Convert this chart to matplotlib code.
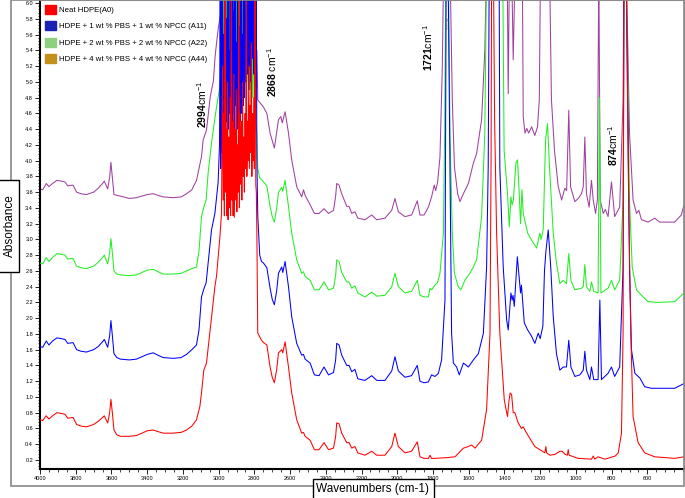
import matplotlib
matplotlib.use("Agg")
import matplotlib.pyplot as plt
import numpy as np
from matplotlib.patches import Patch, Rectangle
from matplotlib.ticker import MultipleLocator, AutoMinorLocator, FormatStrFormatter

plt.rcParams['font.family'] = ['Liberation Sans', 'DejaVu Sans']
plt.rcParams['mathtext.fontset'] = 'custom'
plt.rcParams['mathtext.rm'] = 'Liberation Sans'
plt.rcParams['mathtext.bf'] = 'Liberation Sans:bold'

# Espectros FTIR (numero de onda cm-1, absorbancia)
# A0 - HDPE puro
a0 = [(4000, 0.71), (3985, 0.70), (3965, 0.76), (3950, 0.72), (3930, 0.76), (3905, 0.80), (3880, 0.79),
      (3860, 0.78), (3845, 0.73), (3815, 0.74), (3795, 0.65), (3770, 0.63), (3740, 0.62), (3700, 0.65),
      (3674, 0.69), (3650, 0.74), (3640, 0.76), (3621, 0.67), (3610, 0.80), (3603, 0.97), (3595, 0.80),
      (3586, 0.58), (3570, 0.52), (3550, 0.50), (3500, 0.50), (3460, 0.51), (3430, 0.54), (3400, 0.57),
      (3366, 0.58), (3340, 0.56), (3310, 0.54), (3254, 0.54), (3210, 0.55), (3180, 0.58), (3150, 0.63),
      (3124, 0.71), (3105, 0.88), (3096, 1.05), (3083, 1.34), (3068, 1.43), (3055, 1.70), (3040, 2.02),
      (3021, 2.40), (3012, 2.53), (2993, 3.03), (2984, 3.33),
      (2978, 5.2), (2975, 3.5), (2971, 4.6), (2968, 3.3), (2964, 6.5), (2961, 3.6), (2957, 4.4), (2954, 3.3),
      (2950, 5.0), (2947, 3.25), (2943, 4.3), (2940, 3.4), (2936, 4.8), (2933, 3.3), (2929, 6.5), (2926, 3.5),
      (2922, 4.5), (2919, 3.3), (2915, 5.1), (2912, 3.28), (2908, 4.4), (2905, 3.5), (2901, 4.9), (2898, 3.35),
      (2894, 4.2), (2891, 3.6), (2887, 6.5), (2884, 3.4), (2880, 4.6), (2877, 3.7), (2873, 4.5), (2870, 3.5),
      (2866, 5.0), (2863, 3.8), (2859, 4.3), (2856, 3.6), (2852, 4.6), (2849, 3.9), (2845, 6.5), (2842, 3.8),
      (2838, 4.5), (2835, 4.0), (2831, 5.2), (2828, 3.9), (2824, 4.7), (2821, 4.1), (2817, 5.5), (2814, 3.8),
      (2810, 4.6), (2807, 4.0), (2803, 4.8), (2800, 3.9), (2796, 6.5), (2792, 3.7), (2789, 3.6),
      (2786, 3.08), (2781, 1.81), (2760, 1.72), (2749, 1.69), (2730, 1.66), (2712, 1.38), (2700, 1.25),
      (2688, 1.18), (2675, 1.35), (2665, 1.56), (2647, 1.60), (2641, 1.56), (2628, 1.70), (2609, 1.38),
      (2591, 1.05), (2563, 0.71), (2535, 0.54), (2525, 0.55), (2516, 0.50), (2488, 0.45), (2464, 0.33),
      (2438, 0.33), (2410, 0.42), (2385, 0.33), (2357, 0.35), (2345, 0.50), (2339, 0.67), (2326, 0.66),
      (2311, 0.54), (2283, 0.42), (2270, 0.42), (2255, 0.35), (2237, 0.37), (2221, 0.29), (2181, 0.26),
      (2143, 0.31), (2115, 0.26), (2069, 0.26), (2031, 0.37), (2013, 0.54), (1994, 0.37), (1957, 0.29),
      (1920, 0.31), (1888, 0.43), (1873, 0.24), (1850, 0.22), (1826, 0.22), (1817, 0.26), (1808, 0.22),
      (1789, 0.22), (1720, 0.23), (1677, 0.24), (1630, 0.35), (1602, 0.37), (1584, 0.39), (1565, 0.35),
      (1528, 0.45), (1500, 0.84), (1481, 1.81), (1475, 4.0), (1472, 6.5), (1462, 6.5), (1455, 4.5),
      (1444, 3.08), (1426, 1.81), (1401, 0.96), (1383, 0.75), (1375, 0.95), (1368, 1.05), (1360, 1.03),
      (1351, 0.80), (1342, 0.80), (1323, 0.67), (1305, 0.60), (1295, 0.62), (1276, 0.54), (1230, 0.37),
      (1174, 0.29), (1168, 0.37), (1164, 0.29), (1145, 0.26), (1118, 0.27), (1090, 0.31), (1077, 0.31),
      (1060, 0.27), (1048, 0.26), (1043, 0.33), (1038, 0.26), (987, 0.22), (913, 0.21), (903, 0.25),
      (895, 0.21), (876, 0.24), (838, 0.21), (780, 0.25), (763, 0.29), (745, 0.54), (736, 1.81), (731, 6.5),
      (719, 6.5), (705, 3.5), (693, 1.81), (680, 0.75), (652, 0.42), (615, 0.29), (559, 0.24), (447, 0.22),
      (395, 0.24)]

# A11 - HDPE + 1 wt % PBS + 1 wt % NPCC
a11 = [(4000, 1.64), (3985, 1.63), (3965, 1.71), (3950, 1.66), (3930, 1.71), (3905, 1.75), (3880, 1.74),
       (3860, 1.73), (3845, 1.68), (3815, 1.69), (3795, 1.60), (3770, 1.58), (3740, 1.57), (3700, 1.60),
       (3674, 1.64), (3650, 1.70), (3640, 1.73), (3621, 1.63), (3610, 1.78), (3603, 1.97), (3595, 1.78),
       (3586, 1.55), (3570, 1.50), (3550, 1.48), (3500, 1.47), (3460, 1.48), (3430, 1.51), (3400, 1.54),
       (3366, 1.56), (3340, 1.53), (3310, 1.50), (3254, 1.49), (3210, 1.50), (3180, 1.54), (3150, 1.60),
       (3124, 1.66), (3110, 1.85), (3096, 2.27), (3083, 2.37), (3070, 2.45), (3059, 2.70), (3040, 3.12),
       (3021, 3.33), (3003, 3.72), (2995, 4.2),
       (2991, 6.5), (2988, 3.9), (2985, 6.5), (2982, 4.1), (2979, 6.5), (2976, 4.3), (2973, 5.6), (2970, 4.4),
       (2967, 6.5), (2964, 4.3), (2961, 6.5), (2958, 4.5), (2955, 5.8), (2952, 4.35), (2949, 6.5), (2946, 4.4),
       (2943, 6.5), (2940, 4.6), (2937, 5.4), (2934, 4.35), (2931, 6.5), (2928, 4.5), (2925, 6.5), (2922, 4.4),
       (2919, 5.9), (2916, 4.6), (2913, 6.5), (2910, 4.4), (2907, 6.5), (2904, 4.7), (2901, 5.5), (2898, 4.5),
       (2895, 6.5), (2892, 4.4), (2889, 6.5), (2886, 4.8), (2883, 5.7), (2880, 4.5), (2877, 6.5), (2874, 4.6),
       (2871, 6.5), (2868, 4.9), (2865, 5.6), (2862, 4.7), (2859, 6.5), (2856, 4.8), (2853, 6.5), (2850, 5.0),
       (2847, 5.9), (2844, 4.8), (2841, 6.5), (2838, 5.1), (2835, 6.5), (2832, 4.9), (2829, 6.5), (2826, 5.2),
       (2823, 6.5), (2820, 5.0), (2816, 6.5), (2812, 5.3), (2808, 6.5), (2804, 5.1), (2800, 6.5), (2795, 5.0),
       (2790, 6.5),
       (2786, 4.0), (2781, 3.3), (2770, 2.80), (2760, 2.72), (2749, 2.70), (2730, 2.64), (2712, 2.38),
       (2700, 2.24), (2688, 2.17), (2675, 2.35), (2665, 2.57), (2647, 2.65), (2641, 2.58), (2628, 2.72),
       (2609, 2.40), (2591, 2.02), (2563, 1.68), (2535, 1.53), (2525, 1.54), (2516, 1.48), (2488, 1.43),
       (2464, 1.28), (2438, 1.27), (2410, 1.38), (2385, 1.28), (2357, 1.31), (2345, 1.47), (2339, 1.68),
       (2326, 1.66), (2311, 1.53), (2283, 1.40), (2270, 1.40), (2255, 1.32), (2237, 1.35), (2221, 1.23),
       (2181, 1.21), (2143, 1.27), (2115, 1.21), (2069, 1.21), (2031, 1.33), (2013, 1.51), (1994, 1.33),
       (1957, 1.25), (1920, 1.27), (1888, 1.40), (1873, 1.20), (1850, 1.18), (1826, 1.19), (1808, 1.28),
       (1789, 1.26), (1770, 1.30), (1752, 1.47), (1733, 2.23), (1726, 6.5), (1716, 6.5), (1705, 3.92),
       (1696, 1.81), (1686, 1.43), (1668, 1.38), (1653, 1.28), (1630, 1.43), (1602, 1.38), (1574, 1.47),
       (1546, 1.55), (1518, 1.81), (1500, 2.65), (1491, 3.92), (1485, 6.5), (1430, 6.5), (1426, 3.92),
       (1407, 2.65), (1388, 1.98), (1379, 1.85), (1364, 2.32), (1357, 2.23), (1352, 2.29), (1345, 2.15),
       (1328, 2.78), (1320, 2.57), (1310, 2.32), (1305, 2.42), (1289, 1.94), (1270, 1.85), (1248, 1.77),
       (1230, 1.68), (1211, 1.81), (1200, 1.74), (1185, 1.90), (1176, 2.60), (1168, 2.85), (1155, 3.12),
       (1141, 2.65), (1127, 2.02), (1109, 1.55), (1090, 1.34), (1071, 1.38), (1053, 1.38), (1040, 1.72),
       (1028, 1.38), (1006, 1.26), (978, 1.28), (959, 1.34), (950, 1.58), (941, 1.34), (922, 1.22),
       (913, 1.38), (900, 1.22), (876, 1.22), (866, 2.23), (857, 1.22), (820, 1.30), (801, 1.38),
       (783, 1.26), (755, 1.38), (736, 2.65), (731, 6.5), (719, 6.5), (700, 2.65), (689, 1.60), (670, 1.30),
       (642, 1.24), (615, 1.13), (578, 1.11), (447, 1.11), (395, 1.17)]

# A22 - HDPE + 2 wt % PBS + 2 wt % NPCC
a22 = [(4000, 2.70), (3985, 2.69), (3965, 2.77), (3950, 2.72), (3930, 2.77), (3905, 2.82), (3880, 2.81),
       (3860, 2.80), (3845, 2.75), (3815, 2.76), (3795, 2.66), (3770, 2.64), (3740, 2.63), (3700, 2.66),
       (3674, 2.71), (3650, 2.77), (3640, 2.80), (3621, 2.69), (3610, 2.83), (3603, 3.01), (3595, 2.83),
       (3586, 2.60), (3570, 2.56), (3550, 2.55), (3500, 2.54), (3460, 2.55), (3430, 2.58), (3400, 2.61),
       (3366, 2.62), (3340, 2.59), (3310, 2.56), (3254, 2.56), (3210, 2.57), (3180, 2.60), (3150, 2.63),
       (3124, 2.65), (3110, 2.85), (3096, 3.29), (3083, 3.41), (3070, 3.50), (3059, 3.84), (3040, 4.22),
       (3030, 4.39), (3012, 4.68), (2993, 4.94), (2985, 5.3),
       (2982, 6.5), (2979, 4.6), (2976, 6.5), (2973, 4.4), (2970, 6.5), (2967, 4.7), (2964, 5.8), (2961, 4.5),
       (2958, 6.5), (2955, 4.8), (2952, 6.5), (2949, 4.6), (2946, 5.7), (2943, 4.9), (2940, 6.5), (2937, 4.7),
       (2934, 6.5), (2931, 5.0), (2928, 6.5), (2925, 4.8), (2922, 5.9), (2919, 5.1), (2916, 6.5), (2913, 4.9),
       (2910, 6.5), (2907, 5.2), (2904, 6.5), (2901, 5.0), (2898, 6.5), (2895, 5.3), (2892, 6.5), (2889, 5.1),
       (2886, 6.5), (2883, 5.4), (2880, 6.5), (2877, 5.2), (2874, 6.5), (2871, 5.5), (2868, 6.5), (2865, 5.3),
       (2862, 6.5), (2858, 5.5), (2854, 6.5), (2850, 5.2), (2846, 6.5), (2842, 5.4), (2838, 6.5), (2834, 5.0),
       (2830, 6.5), (2826, 4.9), (2822, 6.5), (2818, 4.7), (2814, 6.5), (2810, 4.8), (2806, 6.5), (2801, 4.6),
       (2796, 6.5), (2791, 4.5),
       (2786, 4.35), (2781, 3.90), (2770, 3.78), (2760, 3.76), (2749, 3.73), (2730, 3.68), (2712, 3.42),
       (2700, 3.29), (2688, 3.22), (2675, 3.40), (2665, 3.60), (2647, 3.66), (2641, 3.61), (2628, 3.75),
       (2609, 3.42), (2591, 3.08), (2563, 2.74), (2535, 2.57), (2525, 2.59), (2516, 2.53), (2488, 2.48),
       (2464, 2.36), (2438, 2.36), (2410, 2.46), (2385, 2.36), (2357, 2.38), (2345, 2.54), (2339, 2.74),
       (2326, 2.72), (2311, 2.58), (2283, 2.46), (2270, 2.46), (2255, 2.38), (2237, 2.41), (2221, 2.32),
       (2181, 2.27), (2143, 2.33), (2115, 2.28), (2069, 2.29), (2031, 2.40), (2013, 2.57), (1994, 2.40),
       (1957, 2.32), (1920, 2.34), (1888, 2.48), (1873, 2.29), (1850, 2.27), (1826, 2.27), (1817, 2.38),
       (1808, 2.36), (1789, 2.42), (1775, 2.45), (1761, 2.57), (1742, 3.08), (1735, 4.35), (1728, 6.5),
       (1714, 6.5), (1705, 4.35), (1692, 3.08), (1680, 2.57), (1659, 2.40), (1644, 2.36), (1622, 2.48),
       (1594, 2.57), (1574, 2.65), (1556, 2.74), (1528, 3.29), (1510, 4.35), (1500, 6.5), (1410, 6.5),
       (1402, 4.13), (1383, 3.58), (1373, 3.16), (1364, 3.54), (1357, 3.44), (1350, 3.50), (1336, 3.97),
       (1327, 4.01), (1320, 3.71), (1310, 3.20), (1302, 3.63), (1295, 3.33), (1270, 3.08), (1248, 2.99),
       (1220, 2.89), (1202, 3.08), (1195, 3.00), (1183, 3.13), (1170, 4.26), (1159, 4.47), (1148, 3.92),
       (1127, 3.08), (1109, 2.70), (1090, 2.44), (1071, 2.48), (1053, 2.44), (1040, 2.82), (1028, 2.48),
       (1006, 2.36), (969, 2.38), (959, 2.40), (950, 2.68), (941, 2.40), (922, 2.34), (913, 2.46),
       (900, 2.34), (876, 2.32), (868, 4.80), (860, 2.32), (820, 2.38), (801, 2.48), (783, 2.36),
       (755, 2.48), (736, 3.50), (731, 6.5), (719, 6.5), (700, 3.50), (685, 2.65), (661, 2.36), (633, 2.29),
       (596, 2.21), (540, 2.20), (447, 2.21), (395, 2.32)]

# A44 - HDPE + 4 wt % PBS + 4 wt % NPCC
a44 = [(4000, 3.64), (3985, 3.63), (3965, 3.71), (3950, 3.67), (3930, 3.71), (3905, 3.75), (3880, 3.74),
       (3860, 3.73), (3845, 3.68), (3815, 3.69), (3795, 3.60), (3770, 3.58), (3740, 3.57), (3700, 3.60),
       (3674, 3.65), (3650, 3.71), (3640, 3.74), (3621, 3.64), (3610, 3.79), (3603, 3.98), (3595, 3.79),
       (3586, 3.57), (3570, 3.56), (3550, 3.55), (3500, 3.52), (3460, 3.53), (3430, 3.55), (3400, 3.57),
       (3366, 3.58), (3340, 3.56), (3310, 3.54), (3254, 3.53), (3210, 3.54), (3180, 3.58), (3150, 3.63),
       (3124, 3.75), (3096, 4.05), (3087, 4.26), (3068, 4.39), (3047, 4.81), (3029, 5.02), (3020, 5.32),
       (3010, 5.53), (3001, 5.70), (2982, 5.95),
       (2978, 6.5), (2972, 5.7), (2966, 6.5), (2960, 5.8), (2954, 6.5), (2948, 5.6), (2942, 6.5), (2936, 5.9),
       (2930, 6.5), (2924, 5.7), (2918, 6.5), (2912, 5.8), (2906, 6.5), (2900, 5.6), (2894, 6.5), (2888, 5.9),
       (2882, 6.5), (2876, 5.7), (2870, 6.5), (2864, 5.8), (2858, 6.5), (2852, 5.5), (2846, 6.5), (2840, 5.6),
       (2834, 6.5), (2828, 5.4), (2822, 6.5), (2816, 5.3), (2810, 6.5), (2804, 5.2), (2798, 6.5), (2792, 5.4),
       (2786, 5.40), (2781, 4.77), (2749, 4.68), (2730, 4.60), (2712, 4.35), (2688, 4.16), (2665, 4.52),
       (2652, 4.56), (2644, 4.48), (2628, 4.62), (2609, 4.35), (2591, 4.01), (2563, 3.67), (2535, 3.54),
       (2525, 3.63), (2516, 3.56), (2488, 3.44), (2464, 3.33), (2438, 3.33), (2410, 3.39), (2385, 3.33),
       (2357, 3.37), (2345, 3.55), (2339, 3.71), (2326, 3.69), (2311, 3.58), (2283, 3.42), (2270, 3.42),
       (2255, 3.33), (2237, 3.35), (2221, 3.27), (2181, 3.25), (2143, 3.31), (2115, 3.25), (2069, 3.27),
       (2031, 3.37), (2013, 3.52), (1994, 3.35), (1957, 3.29), (1920, 3.31), (1888, 3.49), (1873, 3.31),
       (1850, 3.31), (1826, 3.41), (1808, 3.54), (1793, 3.69), (1785, 3.62), (1774, 3.73), (1761, 4.05),
       (1748, 5.19), (1740, 6.5), (1705, 6.5), (1692, 4.77), (1680, 3.92), (1662, 3.58), (1649, 3.48),
       (1630, 3.58), (1602, 3.71), (1574, 3.97), (1556, 4.09), (1528, 4.52), (1510, 5.40), (1500, 6.5),
       (1385, 6.5), (1379, 4.85), (1372, 6.5), (1360, 6.5), (1351, 5.28), (1340, 6.5), (1300, 6.5),
       (1295, 4.56), (1285, 4.35), (1275, 4.41), (1265, 4.35), (1248, 4.43), (1230, 4.32), (1215, 4.43),
       (1205, 4.77), (1198, 6.5), (1148, 6.5), (1137, 4.77), (1120, 4.13), (1099, 3.67), (1080, 3.50),
       (1062, 3.65), (1052, 3.62), (1040, 4.64), (1030, 3.67), (1006, 3.48), (987, 3.52), (969, 3.58),
       (959, 3.67), (950, 4.30), (941, 3.58), (926, 3.41), (913, 3.75), (903, 3.50), (890, 3.33),
       (880, 3.50), (872, 6.5), (864, 3.50), (847, 3.33), (835, 3.38), (820, 3.29), (801, 3.73), (783, 3.29),
       (755, 3.41), (736, 4.77), (731, 6.5), (719, 6.5), (700, 4.35), (680, 3.50), (661, 3.33), (648, 3.37),
       (633, 3.25), (596, 3.22), (559, 3.27), (531, 3.22), (447, 3.22), (410, 3.31), (395, 3.44)]

etiquetas = ['Neat HDPE(A0)',
             'HDPE + 1 wt % PBS + 1 wt % NPCC (A11)',
             'HDPE + 2 wt % PBS + 2 wt % NPCC (A22)',
             'HDPE + 4 wt % PBS + 4 wt % NPCC (A44)']
colores_linea = ['#ff0000', '#0000ff', '#22ee22', '#a040a0']
colores_leyenda = ['#ff0000', '#1a22b4', '#8cd27e', '#c4901c']

picos = [(3094, 4.71, r'$\mathbf{2994}$cm$^{-1}$'),
         (2702, 5.12, r'$\mathbf{2868}$ cm$^{-1}$'),
         (1830, 5.44, r'$\mathbf{1721}$cm$^{-1}$'),
         (790, 4.20, r'$\mathbf{874}$cm$^{-1}$')]

fig = plt.figure(figsize=(6.85, 4.98), dpi=100)
ax = fig.add_axes([40 / 685, 1 - 469 / 498, 644 / 685, 469 / 498])

series = [a0, a11, a22, a44]
# se dibuja desde A44 hasta A0 para que el rojo quede encima
for i in [3, 2, 1, 0]:
    d = np.array(series[i])
    ax.plot(d[:, 0], d[:, 1], color=colores_linea[i], lw=0.75, zorder=2 + (3 - i))

ax.set_xlim(4000, 395)
ax.set_ylim(0.085, 6.04)
ax.set_xticks([4000, 3800, 3600, 3400, 3200, 3000, 2800, 2600, 2400, 2200, 2000,
               1800, 1600, 1400, 1200, 1000, 800, 600])
ax.xaxis.set_minor_locator(AutoMinorLocator(4))
ax.yaxis.set_major_locator(MultipleLocator(0.2))
ax.yaxis.set_minor_locator(AutoMinorLocator(5))
ax.yaxis.set_major_formatter(FormatStrFormatter('%.1f'))
ax.tick_params(axis='both', which='major', labelsize=4, length=3.5, width=0.6, pad=1.5)
ax.tick_params(axis='both', which='minor', length=1.8, width=0.5)
for s in ['left', 'bottom']:
    ax.spines[s].set_linewidth(1.5)
for s in ['top', 'right']:
    ax.spines[s].set_color('#999999')
    ax.spines[s].set_linewidth(0.8)

for x, y, t in picos:
    ax.text(x, y, t, rotation=90, ha='center', va='center', fontsize=7.5, zorder=10)
ax.text(1712, 5.75, '1721.86', rotation=90, ha='center', va='center', fontsize=2.5,
        color='#555555', zorder=10)

handles = [Patch(facecolor=c, edgecolor=c) for c in colores_leyenda]
ax.legend(handles, etiquetas, loc='upper left', bbox_to_anchor=(0.0, 1.0), frameon=False,
          fontsize=5.6, handlelength=1.4, handleheight=1.4, handletextpad=0.5,
          labelspacing=0.95, borderaxespad=0.2)

# marco exterior gris
fig.patches.append(Rectangle((11 / 685, 1 - 486 / 498), 673 / 685, 486 / 498,
                             transform=fig.transFigure, fill=False, edgecolor='#888888', lw=1.2))

# recuadros de los titulos de ejes
fig.patches.append(Rectangle((313 / 685, -0.01), 121 / 685, 19 / 498 + 0.01,
                             transform=fig.transFigure, fc='white', ec='black', lw=1, zorder=5))
fig.text(373 / 685, 1 - 489 / 498, 'Wavenumbers (cm-1)', ha='center', va='center', fontsize=8.5,
         zorder=6)
fig.patches.append(Rectangle((-0.01, 1 - 272 / 498), 18.5 / 685 + 0.01, 92 / 498,
                             transform=fig.transFigure, fc='white', ec='black', lw=1, zorder=5))
fig.text(9.5 / 685, 1 - 226 / 498, 'Absorbance', rotation=90, ha='center', va='center', fontsize=8.5,
         zorder=6)

fig.savefig('out.png', dpi=100)
